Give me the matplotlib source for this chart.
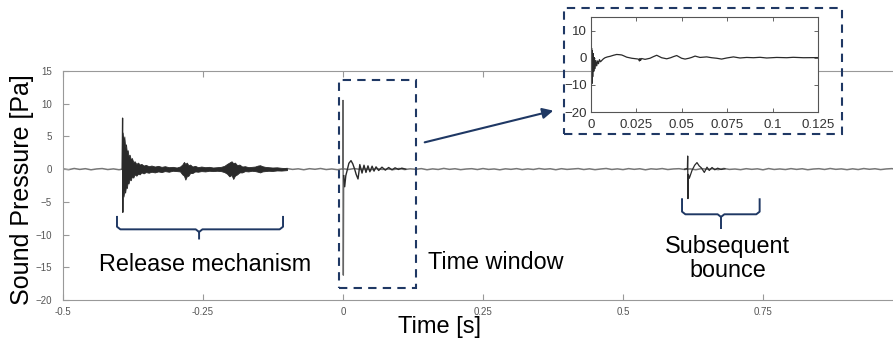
import numpy as np
import matplotlib.pyplot as plt
from matplotlib.patches import Rectangle, FancyArrowPatch

plt.rcParams['font.family'] = ['Liberation Sans', 'DejaVu Sans']

navy = '#1f3864'
ink = '#2a2a2a'

# background noise, one reading every 10 ms from -0.5 s to 1.0 s
noise_t = np.linspace(-0.5, 1.0, 151)
noise_v = [0.05, -0.08, 0.10, -0.04, 0.07, -0.10, 0.03, 0.09, -0.06, 0.04,
           -0.09, 0.06, 0.11, -0.05, 0.02, -0.10, 0.08, -0.03, 0.06, -0.07,
           0.04, -0.11, 0.09, 0.00, -0.06, 0.10, -0.04, 0.07, -0.09, 0.05,
           -0.02, 0.08, -0.07, 0.11, -0.05, 0.03, -0.10, 0.06, 0.02, -0.08,
           0.09, -0.04, 0.05, -0.09, 0.07, -0.02, 0.10, -0.06, 0.03, -0.08,
           0.06, -0.05, 0.09, -0.03, 0.04, -0.10, 0.08, -0.04, 0.02, -0.07,
           0.10, -0.06, 0.05, -0.02, 0.08, -0.09, 0.04, -0.05, 0.11, -0.03,
           0.06, -0.08, 0.02, 0.07, -0.06, 0.09, -0.04, 0.03, -0.10, 0.05,
           -0.03, 0.08, -0.07, 0.04, -0.05, 0.10, -0.02, 0.06, -0.09, 0.07,
           -0.04, 0.03, 0.09, -0.06, 0.05, -0.08, 0.02, 0.10, -0.05, 0.04,
           -0.07, 0.08, -0.03, 0.06, -0.10, 0.05, -0.02, 0.09, -0.06, 0.03,
           0.07, -0.05, 0.04, -0.09, 0.08, -0.02, 0.06, -0.07, 0.10, -0.04,
           0.02, -0.08, 0.07, -0.03, 0.05, -0.10, 0.09, -0.05, 0.03, -0.06,
           0.08, -0.04, 0.06, -0.09, 0.02, 0.07, -0.05, 0.10, -0.03, 0.04,
           -0.08, 0.05, -0.06, 0.09, -0.02, 0.06, -0.07, 0.03, 0.08, -0.05,
           0.02]

# release mechanism, dense burst (upper / lower envelope)
burst_t = [-0.3945, -0.3935, -0.3920, -0.3905, -0.3890, -0.3875, -0.3860,
           -0.3845, -0.3830, -0.3810, -0.3790, -0.3770, -0.3745, -0.3720,
           -0.3690, -0.3660, -0.3630, -0.3600, -0.3560, -0.3520, -0.3470,
           -0.3420, -0.3360, -0.3300, -0.3240, -0.3180, -0.3110, -0.3040,
           -0.2970, -0.2910, -0.2870, -0.2840, -0.2815, -0.2790, -0.2760,
           -0.2730, -0.2690, -0.2640, -0.2590, -0.2530, -0.2460, -0.2390,
           -0.2320, -0.2250, -0.2180, -0.2120, -0.2070, -0.2030, -0.1990,
           -0.1960, -0.1930, -0.1890, -0.1850, -0.1800, -0.1750, -0.1690,
           -0.1630, -0.1570, -0.1520, -0.1480, -0.1440, -0.1390, -0.1330,
           -0.1260, -0.1180, -0.1100, -0.1000]
burst_hi = [0.2, 5.6, 4.2, 5.0, 3.4, 3.8, 2.6,
            2.9, 2.0, 2.2, 1.5, 1.7, 1.1, 1.2,
            0.8, 1.0, 0.7, 0.8, 0.55, 0.65, 0.45,
            0.55, 0.4, 0.5, 0.35, 0.45, 0.3, 0.35,
            0.25, 0.4, 0.7, 1.1, 0.8, 1.0, 0.6,
            0.7, 0.4, 0.5, 0.3, 0.4, 0.3, 0.35,
            0.25, 0.3, 0.35, 0.5, 0.8, 1.0, 1.2,
            0.9, 1.0, 0.6, 0.7, 0.4, 0.45, 0.3,
            0.35, 0.4, 0.55, 0.6, 0.45, 0.35, 0.3,
            0.25, 0.28, 0.2, 0.15]
burst_lo = [-0.2, -3.8, -4.2, -3.3, -3.6, -2.6, -2.9,
            -2.0, -2.2, -1.5, -1.7, -1.1, -1.3, -0.8,
            -1.0, -0.7, -0.8, -0.5, -0.65, -0.45, -0.55,
            -0.4, -0.5, -0.35, -0.45, -0.3, -0.4, -0.25,
            -0.3, -0.35, -0.8, -1.0, -1.6, -1.1, -1.0,
            -0.6, -0.6, -0.35, -0.4, -0.3, -0.35, -0.25,
            -0.3, -0.25, -0.3, -0.45, -0.7, -1.1, -0.9,
            -1.5, -1.0, -0.8, -0.5, -0.5, -0.3, -0.35,
            -0.25, -0.3, -0.4, -0.5, -0.35, -0.3, -0.25,
            -0.28, -0.2, -0.22, -0.15]

# release mechanism, first impulse
rel_t = [-0.3945, -0.3936, -0.3932, -0.3928]
rel_v = [0.0, 7.8, -6.6, 0.0]

# impact at t = 0
spike_t = [-0.0005, 0.0, 0.0006, 0.0012]
spike_v = [0.0, 10.5, -16.2, -1.0]
hit_t = [0.0012, 0.003, 0.005, 0.0071, 0.0105,
         0.0143, 0.0175, 0.0208, 0.0235, 0.0268, 0.0285, 0.030, 0.034, 0.0375,
         0.041, 0.0446, 0.048, 0.052, 0.0554, 0.059, 0.0637, 0.0696, 0.0756,
         0.0815, 0.0875, 0.093, 0.099, 0.105, 0.112]
hit_v = [-1.0, -2.7, -1.0, -0.3, 0.9, 1.3, 0.8, 0.0,
         -0.8, -1.5, -0.4, 0.7, -0.6, 0.6, -0.5, 0.5, -0.4, 0.45, -0.3, 0.35,
         -0.2, 0.3, -0.15, 0.25, -0.1, 0.2, -0.05, 0.15, 0.0]

# subsequent bounce
bounce_t = [0.610, 0.6150, 0.6155, 0.6160, 0.6168, 0.6184, 0.6232, 0.6280,
            0.6321, 0.6360, 0.6399, 0.6452, 0.650, 0.654, 0.659, 0.664,
            0.669, 0.675, 0.682]
bounce_v = [0.0, 0.1, 2.0, -4.5, -0.8, -1.4, -0.2, 0.6, 1.0, 0.5, 0.2, -0.5,
            0.3, -0.2, 0.25, -0.1, 0.15, -0.05, 0.05]

# time window (inset)
win_t = [0, 0.0001, 0.0003, 0.0005, 0.0007, 0.0009, 0.0011, 0.0014, 0.0017,
         0.0020, 0.0024, 0.0028, 0.0033, 0.0038, 0.0043, 0.0048, 0.0054,
         0.0061, 0.0070, 0.0079, 0.0092, 0.0106, 0.0125, 0.0143, 0.0160,
         0.0171, 0.0185, 0.0198, 0.0226, 0.0250, 0.0262, 0.0268, 0.0271,
         0.0274, 0.0280, 0.0299, 0.0326, 0.0345, 0.0363, 0.0390, 0.0418,
         0.0440, 0.0455, 0.0473, 0.0500, 0.0519, 0.0540, 0.0555, 0.0574,
         0.0601, 0.0638, 0.0665, 0.0693, 0.0720, 0.0748, 0.0785, 0.0821,
         0.0858, 0.0895, 0.0931, 0.0968, 0.1023, 0.1078, 0.1114, 0.1170,
         0.1252]
win_v = [0, 11.5, -16.3, 3.5, -9.5, 2.5, -7.0, 1.5, -5.0, 0.0, -4.0, -1.0,
         -3.0, -1.2, -2.2, -0.7, -1.5, -1.0, -0.4, 0.0, 0.3, 0.5, 0.9, 1.2,
         1.1, 1.0, 0.6, 0.2, -0.2, -0.4, -0.5, -1.2, -0.3, -1.0, -0.3, -0.6,
         -0.2, 0.4, 0.9, 0.0, -0.4, 0.0, 0.4, 0.8, -0.2, -0.5, -0.2, 0.1, 0.6,
         0.1, 0.3, 0.0, -0.2, -0.5, -0.1, 0.3, -0.1, 0.1, 0.0, 0.15, -0.1,
         0.1, 0.0, 0.15, 0.0, 0.05]

x_ticks = [-0.5, -0.25, 0, 0.25, 0.5, 0.75]
x_labels = ['-0.5', '-0.25', '0', '0.25', '0.5', '0.75']
y_ticks = [15, 10, 5, 0, -5, -10, -15, -20]
win_xticks = [0, 0.025, 0.05, 0.075, 0.1, 0.125]
win_xlabels = ['0', '0.025', '0.05', '0.075', '0.1', '0.125']
win_yticks = [10, 0, -10, -20]

W, H = 893, 348
fig = plt.figure(figsize=(W / 100, H / 100), dpi=100)

ax = fig.add_axes([63 / W, 48 / H, 840 / W, 229 / H])
ax.plot(noise_t, noise_v, color='#777777', lw=1.1, zorder=1)
ax.fill_between(burst_t, burst_lo, burst_hi, color=ink, lw=0.6, zorder=2)
ax.plot(rel_t, rel_v, color=ink, lw=0.9, zorder=3)
ax.plot(spike_t, spike_v, color='#666666', lw=1.0, zorder=3)
ax.plot(hit_t, hit_v, color=ink, lw=1.0, zorder=3)
ax.plot(bounce_t, bounce_v, color=ink, lw=0.9, zorder=3)

ax.set_xlim(-0.5, 1.0)
ax.set_ylim(-20, 15)
ax.set_xticks(x_ticks)
ax.set_xticklabels(x_labels)
ax.set_yticks(y_ticks)
ax.tick_params(direction='in', length=4, width=0.8, color='#999999',
               labelsize=7, labelcolor='#555555', top=True, right=True)
ax.tick_params(axis='x', pad=5)
ax.tick_params(axis='y', pad=8)
for s in ax.spines.values():
    s.set_color('#999999')
    s.set_linewidth(0.8)

# dashed time window
ax.add_patch(Rectangle((-0.0077, -18.2), 0.1387, 31.8, fill=False,
                       ec=navy, lw=1.5, ls=(0, (4, 3)), clip_on=False))


def brace(x0, x1, xm, ytop, ybar, ytip):
    dx = 0.006
    ax.plot([x0, x0, x0 + dx, xm - dx, xm, xm],
            [ytop, ybar + 0.4, ybar, ybar, ybar - 0.4, ytip],
            color=navy, lw=1.4, solid_joinstyle='round', clip_on=False)
    ax.plot([xm, xm + dx, x1 - dx, x1, x1],
            [ybar - 0.4, ybar, ybar, ybar + 0.4, ytop],
            color=navy, lw=1.4, solid_joinstyle='round', clip_on=False)


brace(-0.4036, -0.1071, -0.257, -7.3, -9.2, -10.6)
brace(0.6054, 0.744, 0.675, -4.6, -6.9, -9.0)

ax.text(-0.2464, -14.5, 'Release mechanism', fontsize=16.8,
        ha='center', va='center')
ax.text(0.1518, -14.2, 'Time window', fontsize=16.8, ha='left', va='center')
ax.text(0.6866, -13.6, 'Subsequent\nbounce', fontsize=16.8, ha='center',
        va='center', linespacing=1.05)

fig.text(22 / W, 1 - 190 / H, 'Sound Pressure [Pa]', rotation=90,
         fontsize=18, ha='center', va='center')
fig.text(440 / W, 1 - 327 / H, 'Time [s]', fontsize=17,
         ha='center', va='center')

# inset with the time window
fig.add_artist(Rectangle((564 / W, 1 - 134 / H), 278 / W, 126 / H,
                         transform=fig.transFigure, fill=False, ec=navy,
                         lw=1.5, ls=(0, (4, 3))))
fig.add_artist(FancyArrowPatch((422 / W, 1 - 143 / H), (556 / W, 1 - 110 / H),
                               transform=fig.transFigure, arrowstyle='-|>',
                               mutation_scale=16, color=navy, lw=1.5))

ins = fig.add_axes([590.7 / W, 1 - 112 / H, 227.3 / W, 95 / H])
ins.plot(win_t, win_v, color=ink, lw=0.9)
ins.set_xlim(0, 0.125)
ins.set_ylim(-20, 15)
ins.set_xticks(win_xticks)
ins.set_xticklabels(win_xlabels)
ins.set_yticks(win_yticks)
ins.tick_params(direction='in', length=3, width=0.7, color='#666666',
                labelsize=9.5, labelcolor='#333333', top=True, right=True)
ins.tick_params(axis='x', pad=5)
ins.tick_params(axis='y', pad=3)
for s in ins.spines.values():
    s.set_color('#555555')
    s.set_linewidth(0.8)

fig.savefig('out.png', dpi=100)
